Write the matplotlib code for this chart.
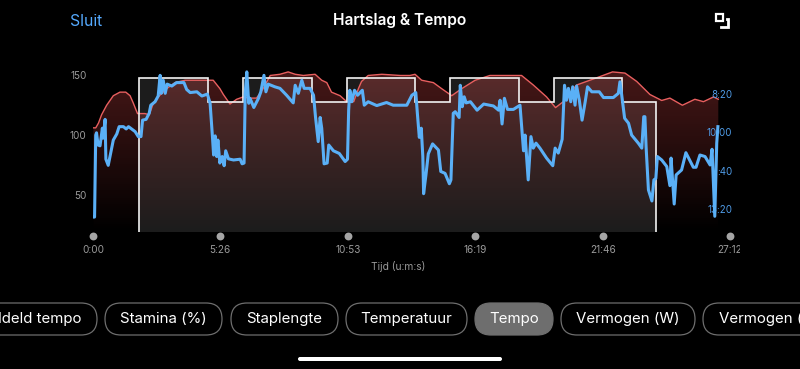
import numpy as np
import matplotlib
matplotlib.use('Agg')
import matplotlib.pyplot as plt
from matplotlib.patches import FancyBboxPatch, Rectangle
from matplotlib.transforms import Bbox

plt.rcParams['font.family'] = ['Inter', 'DejaVu Sans']

## tick positions in seconds
x_ticks = [0, 326, 653, 979, 1306, 1632]
x_labels = ['0:00', '5:26', '10:53', '16:19', '21:46', '27:12']
hr_ticks = [50, 100, 150]
pace_ticks = [500, 600, 700, 800]
pace_labels = ['8:20', '10:00', ':40', '13:20']

## heart rate (bpm)
hr_t = [1, 7, 14, 22, 35, 52, 69, 84, 95, 103, 114, 133, 144, 155, 167, 189, 210, 236, 257, 283, 308,
        325, 334, 351, 368, 385, 402, 419, 436, 454, 479, 500, 518, 539, 569, 586, 599, 611, 633, 650,
        668, 680, 688, 705, 740, 787, 812, 825, 842, 872, 893, 919, 945, 979, 1017, 1060, 1098, 1128,
        1162, 1185, 1205, 1239, 1290, 1331, 1363, 1393, 1427, 1457, 1478, 1510, 1542, 1564, 1590, 1602]
hr_v = [106, 106, 110, 117, 125, 133, 136, 136, 133, 127, 118, 118, 117, 127, 132, 139, 144, 146, 146, 146, 146,
        139, 134, 126, 130, 132, 131, 131, 139, 150, 151, 153, 151, 150, 151, 146, 144, 136, 133, 128,
        128, 139, 145, 150, 151, 150, 150, 151, 146, 144, 139, 133, 139, 146, 150, 150, 150, 142,
        132, 123, 128, 142, 148, 153, 152, 145, 134, 129, 131, 125, 130, 128, 132, 130]

## pace (seconds per unit)
pace_t = [1, 4, 7, 9, 13, 18, 24, 26, 31, 33, 39, 52, 61, 67, 78, 85, 91, 99, 108, 116, 123, 127, 136,
          144, 148, 159, 167, 172, 175, 180, 185, 190, 202, 214, 233, 240, 249, 266, 279, 293, 300,
          306, 309, 313, 317, 320, 325, 331, 336, 340, 347, 360, 377, 382, 387, 390, 394, 399, 402,
          406, 412, 424, 430, 438, 443, 449, 466, 479, 496, 513, 518, 526, 535, 541, 556, 565, 570,
          577, 582, 586, 592, 600, 604, 616, 631, 638, 646, 652, 655, 658, 663, 670, 678, 690, 695,
          705, 727, 752, 769, 787, 804, 817, 827, 831, 836, 841, 845, 847, 853, 859, 870, 885, 891,
          902, 913, 917, 923, 928, 938, 941, 946, 951, 956, 967, 984, 1001, 1026, 1039, 1043, 1048,
          1054, 1062, 1077, 1094, 1099, 1103, 1107, 1115, 1122, 1128, 1135, 1145, 1162, 1178, 1184,
          1192, 1202, 1208, 1213, 1218, 1224, 1229, 1235, 1239, 1246, 1253, 1261, 1267, 1278, 1297,
          1308, 1333, 1346, 1350, 1354, 1362, 1372, 1380, 1397, 1406, 1411, 1414, 1417, 1423, 1432,
          1437, 1442, 1446, 1457, 1470, 1478, 1481, 1489, 1494, 1508, 1519, 1538, 1545, 1555, 1568,
          1581, 1586, 1593, 1598, 1601]
pace_v = [821, 821, 607, 601, 633, 635, 589, 615, 566, 670, 686, 620, 604, 585, 585, 591, 585, 591, 598, 611, 611, 568, 566,
          550, 529, 520, 505, 451, 498, 464, 498, 474, 479, 470, 470, 488, 496, 494, 505, 500, 524,
          611, 659, 609, 663, 620, 680, 663, 687, 648, 669, 672, 670, 682, 680, 498, 442, 524, 511,
          520, 535, 511, 494, 451, 494, 474, 481, 485, 503, 523, 477, 498, 464, 485, 485, 503, 559,
          624, 561, 589, 682, 680, 633, 648, 655, 665, 676, 670, 542, 490, 520, 490, 503, 490, 529,
          520, 530, 522, 529, 529, 529, 503, 496, 550, 613, 589, 663, 760, 711, 656, 630, 646, 702,
          707, 734, 724, 550, 546, 561, 477, 533, 507, 523, 520, 542, 526, 531, 542, 516, 578,
          511, 540, 540, 529, 594, 648, 607, 724, 611, 641, 628, 641, 667, 687, 641,
          654, 618, 477, 516, 485, 520, 481, 529, 479, 516, 568, 520, 481, 494, 494,
          509, 509, 498, 468, 498, 563, 576, 607, 628, 641, 559, 559, 637, 750, 779,
          724, 720, 663, 672, 689, 739, 667, 787, 711, 698, 653, 691, 691, 659, 663,
          685, 644, 819, 628, 585]

## workout steps, level in bpm between the edges
step_edges = [118, 294, 384, 560, 650, 826, 915, 1091, 1180, 1356, 1443]
step_levels = [148, 128, 148, 128, 148, 128, 148, 128, 148, 128]

## bottom buttons
pill_labels = ['Gemiddeld tempo', 'Stamina (%)', 'Staplengte', 'Temperatuur', 'Tempo', 'Vermogen (W)', 'Vermogen (%)']
pill_left = [-60, 105, 231, 346, 475, 561, 703]
pill_right = [97, 222, 338, 467, 553, 695, 850]

W, H = 800, 369
fig = plt.figure(figsize=(W / 100, H / 100), dpi=100, facecolor='black')

# pixel overlay for the app chrome
ui = fig.add_axes([0, 0, 1, 1], zorder=-1)
ui.set_xlim(0, W)
ui.set_ylim(H, 0)
ui.axis('off')

ui.text(70, 21, 'Sluit', color='#55aaff', fontsize=11.3, va='center')
ui.text(400, 21, 'Hartslag & Tempo', color='white', fontsize=11.2, fontweight='semibold', ha='center', va='center')
ui.add_patch(Rectangle((716, 14), 7, 7, fill=False, ec='white', lw=1.6))
ui.plot([726.5, 728, 728, 721], [19, 19, 27, 27], color='white', lw=2, solid_joinstyle='miter')
ui.text(398, 267, 'Tijd (u:m:s)', color='#9a9a9a', fontsize=7.4, ha='center', va='center')

for name, left, right in zip(pill_labels, pill_left, pill_right):
    active = name == 'Tempo'
    ui.add_patch(FancyBboxPatch((left, 303), right - left, 32, boxstyle='round,pad=0,rounding_size=16',
                                fc='#6e6e6e' if active else 'black', ec='#6e6e6e', lw=0.9))
    if name == 'Gemiddeld tempo':
        ui.text(82, 319, name, color='white', fontsize=10.8, ha='right', va='center')
    elif name == 'Vermogen (%)':
        ui.text(719, 319, name, color='white', fontsize=10.8, ha='left', va='center')
    else:
        ui.text((left + right) / 2, 319, name, color='white', fontsize=10.8, ha='center', va='center')
ui.add_patch(FancyBboxPatch((298, 357), 204, 4, boxstyle='round,pad=0,rounding_size=2', fc='white', ec='none'))

# main chart, y axis is heart rate
ax = fig.add_axes([93 / W, 1 - 232 / H, 637 / W, 172 / H], facecolor='none')
ax.set_xlim(0, 1632)
ax.set_ylim(18.5, 163)

edges = np.repeat(step_edges, 2)
levels = np.concatenate([[18.5], np.repeat(step_levels, 2), [18.5]])
ax.fill_between(edges, 18.5, levels, color='#1c1c1c', lw=0, zorder=1)

# red gradient clipped to the area below the heart rate
grad = np.zeros((256, 1, 4))
grad[:, 0, 0] = 0.9
grad[:, 0, 1] = 0.3
grad[:, 0, 2] = 0.3
grad[:, 0, 3] = np.linspace(0.32, 0.0, 256)
area = ax.fill_between(hr_t, 18.5, hr_v, color='none', lw=0)
im = ax.imshow(grad, extent=[0, 1632, 18.5, 155], aspect='auto', origin='upper', zorder=2)
im.set_clip_path(area.get_paths()[0], transform=ax.transData)
ax.set_xlim(0, 1632)
ax.set_ylim(18.5, 163)

ax.plot(hr_t, hr_v, color='#e85f5f', lw=1, zorder=3)
ax.plot(edges, levels, color='#f2f2f2', lw=1.2, zorder=4, solid_joinstyle='miter')

ax.set_xticks(x_ticks)
ax.set_xticklabels(x_labels)
ax.set_yticks(hr_ticks)
ax.tick_params(axis='x', length=0, pad=9.5, labelsize=7.2, labelcolor='#9a9a9a')
ax.tick_params(axis='y', length=0, pad=4.5, labelsize=7.2, labelcolor='#9a9a9a')
for s in ax.spines.values():
    s.set_visible(False)
ax.scatter(x_ticks, [-0.025] * len(x_ticks), s=32, color='#a5a5a5', lw=0,
           transform=ax.get_xaxis_transform(), clip_on=False, zorder=5)
# last label is cut off by the chart frame
last = ax.get_xticklabels()[-1]
last.set_clip_box(Bbox([[0, 0], [740, H]]))
last.set_clip_on(True)

# pace on its own inverted axis
ax2 = ax.twinx()
ax2.set_ylim(860, 411)
ax2.plot(pace_t, pace_v, color='#5ab0f7', lw=2.2, solid_joinstyle='round', zorder=5)
ax2.set_yticks(pace_ticks)
ax2.set_yticklabels(pace_labels, ha='right')
ax2.tick_params(axis='y', length=0, pad=1.5, labelsize=7, labelcolor='#4f9be6')
for s in ax2.spines.values():
    s.set_visible(False)

fig.savefig('out.png', dpi=100)
